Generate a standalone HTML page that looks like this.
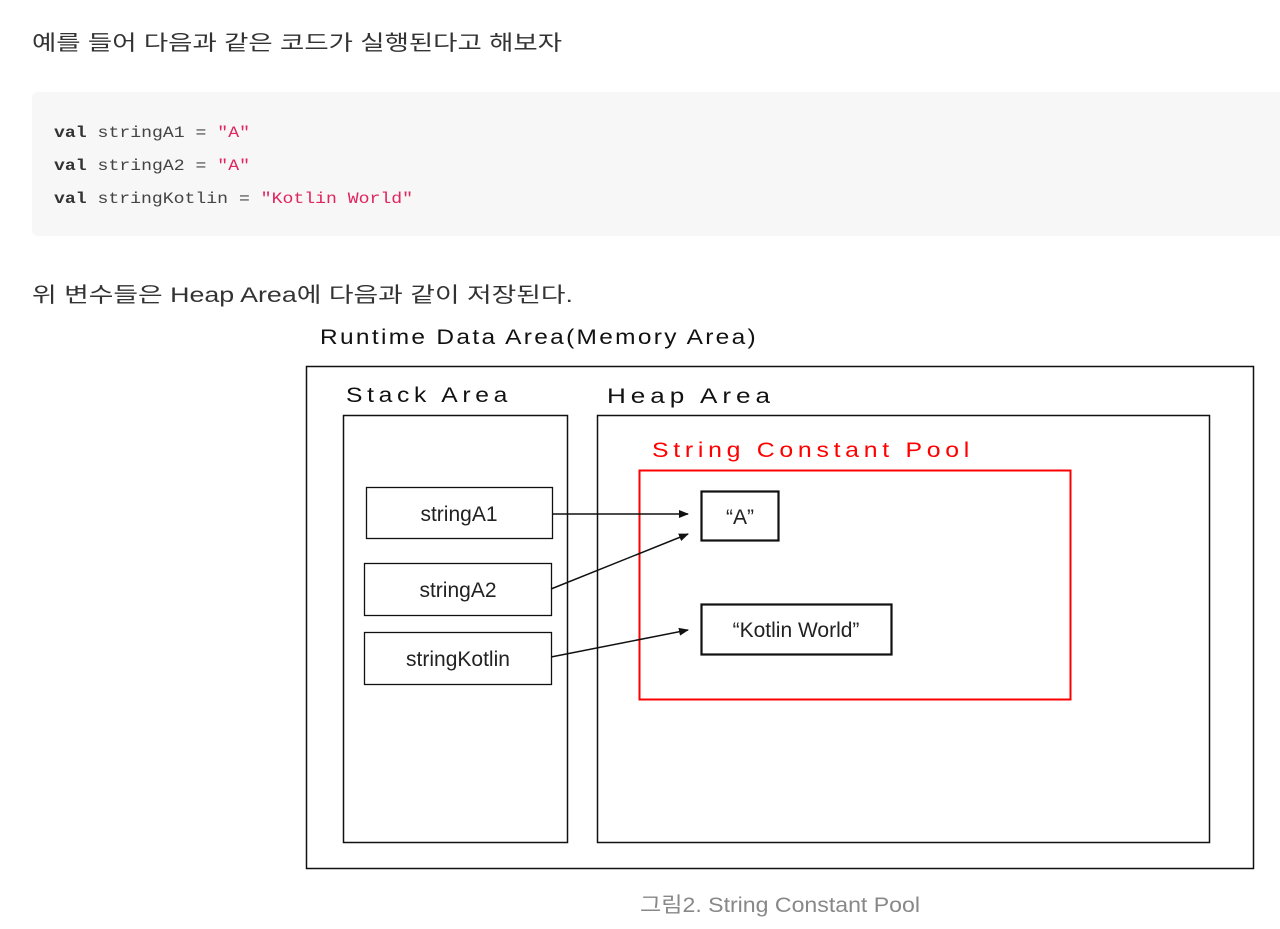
<!DOCTYPE html>
<html><head><meta charset="utf-8"><style>
html,body{margin:0;padding:0;background:#fff;width:1280px;height:929px;overflow:hidden}
svg{display:block}
.k{font-family:"Liberation Sans","Noto Sans CJK KR",sans-serif}
.m{font-family:"Liberation Mono","DejaVu Sans Mono",monospace}
</style></head><body>
<svg width="1280" height="929" xmlns="http://www.w3.org/2000/svg">
<defs><marker id="ar" markerWidth="10" markerHeight="8" refX="9" refY="4" orient="auto" markerUnits="userSpaceOnUse"><path d="M0,0 L10,4 L0,8 z" fill="#111"/></marker></defs>
<text class="k" x="32" y="50" font-size="21" fill="#333" textLength="530" lengthAdjust="spacingAndGlyphs">예를 들어 다음과 같은 코드가 실행된다고 해보자</text>
<rect x="32" y="92" width="1260" height="144" rx="6" fill="#f7f7f7"/>
<g class="m" font-size="16" fill="#444">
<text x="54" y="137" textLength="196" lengthAdjust="spacingAndGlyphs"><tspan font-weight="bold" fill="#333">val</tspan> stringA1 = <tspan fill="#e0245e">"A"</tspan></text>
<text x="54" y="170" textLength="196" lengthAdjust="spacingAndGlyphs"><tspan font-weight="bold" fill="#333">val</tspan> stringA2 = <tspan fill="#e0245e">"A"</tspan></text>
<text x="54" y="203" textLength="359" lengthAdjust="spacingAndGlyphs"><tspan font-weight="bold" fill="#333">val</tspan> stringKotlin = <tspan fill="#e0245e">"Kotlin World"</tspan></text>
</g>
<text class="k" x="32" y="302" font-size="21" fill="#333" textLength="541" lengthAdjust="spacingAndGlyphs">위 변수들은 Heap Area에 다음과 같이 저장된다.</text>
<g class="k" font-size="21" fill="#111">
<text x="320" y="344" textLength="438" lengthAdjust="spacingAndGlyphs" letter-spacing="2">Runtime Data Area(Memory Area)</text>
<text x="346" y="402" textLength="166" lengthAdjust="spacingAndGlyphs" letter-spacing="4">Stack Area</text>
<text x="607" y="403" textLength="168" lengthAdjust="spacingAndGlyphs" letter-spacing="4">Heap Area</text>
<text x="652" y="457" fill="#ff0000" textLength="322" lengthAdjust="spacingAndGlyphs" letter-spacing="4">String Constant Pool</text>
</g>
<g fill="none" stroke="#111">
<rect x="306.5" y="366.5" width="947" height="502" stroke-width="1.5"/>
<rect x="343.5" y="415.5" width="224" height="427" stroke-width="1.5"/>
<rect x="597.5" y="415.5" width="612" height="427" stroke-width="1.5"/>
<rect x="639.5" y="470.5" width="431" height="229" stroke="#ff0000" stroke-width="2"/>
<rect x="366.5" y="487.5" width="186" height="51" stroke-width="1.3"/>
<rect x="364.5" y="563.5" width="187" height="52" stroke-width="1.3"/>
<rect x="364.5" y="632.5" width="187" height="52" stroke-width="1.3"/>
<rect x="701.5" y="491.5" width="77" height="49" stroke-width="2.2"/>
<rect x="701.5" y="604.5" width="190" height="50" stroke-width="2.2"/>
<line x1="552" y1="514" x2="688" y2="514" stroke-width="1.5" marker-end="url(#ar)"/>
<line x1="551" y1="589" x2="688" y2="534" stroke-width="1.5" marker-end="url(#ar)"/>
<line x1="551" y1="657" x2="688" y2="630" stroke-width="1.5" marker-end="url(#ar)"/>
</g>
<g class="k" font-size="21" fill="#222" text-anchor="middle">
<text x="459" y="521">stringA1</text>
<text x="458" y="597">stringA2</text>
<text x="458" y="666">stringKotlin</text>
<text x="740" y="524">“A”</text>
<text x="796" y="637">“Kotlin World”</text>
</g>
<text class="k" x="640" y="912" font-size="21" fill="#888" textLength="280" lengthAdjust="spacingAndGlyphs">그림2. String Constant Pool</text>
</svg>
</body></html>
